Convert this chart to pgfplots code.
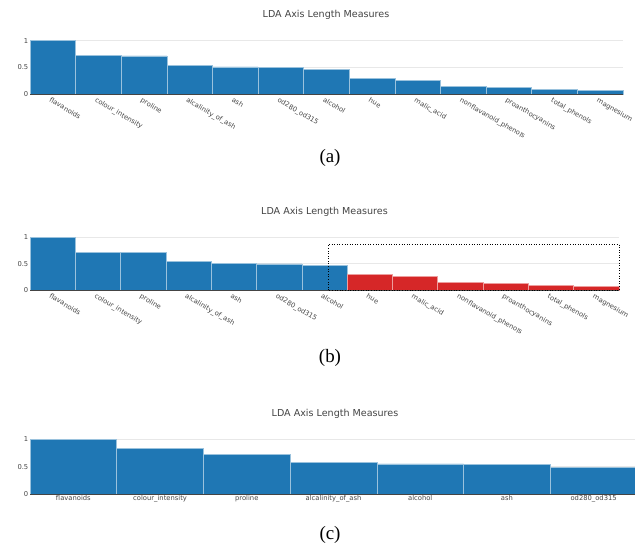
\documentclass[border=0pt]{standalone}
\usepackage{pgfplots}
\pgfplotsset{compat=1.18}
\usepackage{fontspec}
\setmainfont{DejaVu Sans}
\newfontfamily\capfont{Liberation Serif}
\definecolor{barblue}{HTML}{1F77B4}
\definecolor{barred}{HTML}{D62728}
\definecolor{txt}{HTML}{444444}
\definecolor{gridc}{HTML}{E8E8E8}
\pgfplotsset{
  lda/.style={
    scale only axis, ymin=0, ymax=1.05,
    axis line style={draw=none}, tick style={draw=none},
    ymajorgrids, grid style={gridc, line width=0.8bp},
    ytick={0,0.5,1}, yticklabels={0,0.5,1},
    yticklabel style={font=\fontsize{6.8}{7}\selectfont, text=txt, inner sep=1.5bp},
    xticklabel style={font=\fontsize{6.8}{7}\selectfont, text=txt},
    /pgf/number format/assume math mode=true,
    clip=false,
  },
  bblue/.style={ybar, bar width=1, fill=barblue, draw=barblue!45!white, line width=0.6bp},
  bred/.style={ybar, bar width=1, fill=barred, draw=barred!45!white, line width=0.6bp},
}
\begin{document}
\begin{tikzpicture}
\useasboundingbox (0,0) rectangle (635bp,-547bp);
% ---------- (a)
\node[font=\fontsize{9.6}{11}\selectfont, text=txt] at (326bp,-15bp) {LDA Axis Length Measures};
\begin{axis}[lda, at={(30bp,-94bp)}, anchor=south west, width=593bp, height=56bp,
  xmin=-0.5, xmax=12.5, xtick={0,...,12},
  xticklabels={flavanoids,colour\_intensity,proline,alcalinity\_of\_ash,ash,od280\_od315,alcohol,hue,malic\_acid,nonflavanoid\_phenols,proanthocyanins,total\_phenols,magnesium},
  xticklabel style={rotate=-30, anchor=north west, xshift=-3bp}]
\addplot[bblue] coordinates {(0,1) (1,0.72) (2,0.715) (3,0.54) (4,0.51) (5,0.495) (6,0.46) (7,0.29) (8,0.26) (9,0.15) (10,0.125) (11,0.09) (12,0.07)};
\draw[txt, line width=0.8bp] (axis cs:-0.5,0) -- (axis cs:12.5,0);
\end{axis}
\node[font=\capfont\fontsize{19}{21}\selectfont] at (330bp,-158bp) {(a)};
% ---------- (b)
\node[font=\fontsize{9.6}{11}\selectfont, text=txt] at (324.5bp,-212bp) {LDA Axis Length Measures};
\begin{axis}[lda, at={(30bp,-290bp)}, anchor=south west, width=589bp, height=55.3bp,
  xmin=-0.5, xmax=12.5, xtick={0,...,12},
  xticklabels={flavanoids,colour\_intensity,proline,alcalinity\_of\_ash,ash,od280\_od315,alcohol,hue,malic\_acid,nonflavanoid\_phenols,proanthocyanins,total\_phenols,magnesium},
  xticklabel style={rotate=-30, anchor=north west, xshift=-3bp}]
\addplot[bblue] coordinates {(0,1) (1,0.72) (2,0.715) (3,0.54) (4,0.51) (5,0.495) (6,0.46)};
\addplot[bred] coordinates {(7,0.29) (8,0.26) (9,0.15) (10,0.125) (11,0.09) (12,0.07)};
\draw[txt, line width=0.8bp] (axis cs:-0.5,0) -- (axis cs:12.5,0);
\draw[black, dotted, line width=0.6bp] (axis cs:6.08,0) rectangle (axis cs:12.5,0.87);
\end{axis}
\node[font=\capfont\fontsize{19}{21}\selectfont] at (330bp,-358bp) {(b)};
% ---------- (c)
\node[font=\fontsize{9.6}{11}\selectfont, text=txt] at (335bp,-414bp) {LDA Axis Length Measures};
\begin{axis}[lda, at={(30bp,-494bp)}, anchor=south west, width=607bp, height=57.4bp,
  xmin=-0.5, xmax=6.5, xtick={0,...,6},
  xticklabels={flavanoids,colour\_intensity,proline,alcalinity\_of\_ash,alcohol,ash,od280\_od315},
  xticklabel style={anchor=north, inner sep=1.5bp}]
\addplot[bblue] coordinates {(0,1) (1,0.835) (2,0.725) (3,0.58) (4,0.55) (5,0.536) (6,0.49)};
\draw[txt, line width=0.8bp] (axis cs:-0.5,0) -- (axis cs:6.5,0);
\end{axis}
\node[font=\capfont\fontsize{19}{21}\selectfont] at (330bp,-535bp) {(c)};
\end{tikzpicture}
\end{document}
